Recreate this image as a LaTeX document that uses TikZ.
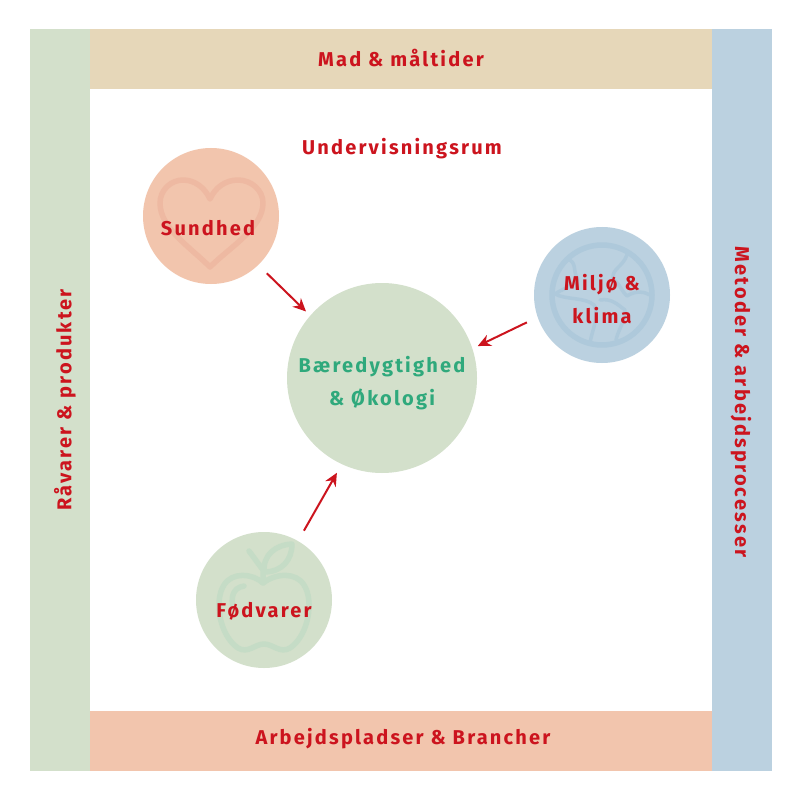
\documentclass[tikz,border=0pt]{standalone}
\usepackage{fontspec}
\setmainfont{Fira Sans}
\newfontfamily\bandfont[LetterSpace=11]{Fira Sans}
\usepackage{xcolor}
\usetikzlibrary{arrows.meta}
\definecolor{LabelRed}{HTML}{CC141E}
\definecolor{EcoGreen}{HTML}{2FA97C}
\definecolor{BandGreen}{HTML}{D3E0CB}
\definecolor{BandTan}{HTML}{E6D7B9}
\definecolor{BandBlue}{HTML}{BBD1E0}
\definecolor{BandPeach}{HTML}{F2C5AD}
\definecolor{HeartLine}{HTML}{EEB9A2}
\definecolor{GlobeLine}{HTML}{AEC9DB}
\definecolor{AppleLine}{HTML}{C5DCC6}

\begin{document}
\begin{tikzpicture}[
  x=1pt,y=-1pt,
  >={Stealth[length=13pt,width=12pt]},
  band/.style={inner sep=0pt,outer sep=0pt},
  bandtitle/.style={font=\bandfont\bfseries\fontsize{20}{22}\selectfont,text=LabelRed},
  topic/.style={circle,inner sep=0pt,outer sep=0pt,minimum size=136pt},
  topictitle/.style={font=\bandfont\bfseries\fontsize{20}{33}\selectfont,text=LabelRed,align=center},
  icon/.style={line width=5.5pt,line cap=round,line join=round},
  flow/.style={->,draw=LabelRed,line width=2pt,shorten <=12pt,shorten >=6pt}
]
\useasboundingbox (0,0) rectangle (801,802);
\fill[white] (0,0) rectangle (801,802);

% Frame bands round the room.
\node[band,fill=BandGreen,minimum width=60pt,minimum height=742pt] (raavarer) at (60,400) {};
\node[band,fill=BandBlue,minimum width=60pt,minimum height=742pt] (metoder) at (742,400) {};
\node[band,fill=BandTan,minimum width=622pt,minimum height=60pt] (mad) at (401,59) {};
\node[band,fill=BandPeach,minimum width=622pt,minimum height=60pt] (arbejde) at (401,741) {};
\node[bandtitle] (madtitle) at (401,58) {Mad \& måltider};
\node[bandtitle] (arbejdetitle) at (403,739) {Arbejdspladser \& Brancher};
\node[bandtitle,rotate=90] (raavarertitle) at (65,400) {Råvarer \& produkter};
\node[bandtitle,rotate=-90] (metodertitle) at (741,402) {Metoder \& arbejdsprocesser};
\node[bandtitle] (rum) at (402,149) {Undervisningsrum};

% Topic circles.
\node[topic,fill=BandPeach] (sundhed) at (211,216) {};
\node[topic,fill=BandBlue] (miljo) at (602,295) {};
\node[topic,fill=BandGreen] (fodevarer) at (264,600) {};
\node[topic,fill=BandGreen,minimum size=190pt] (baere) at (382,378) {};

% Heart icon.
\draw[icon,HeartLine] (210,267)
  .. controls (190,247) and (160,228) .. (160,203)
  .. controls (160,190) and (171,180) .. (183,180)
  .. controls (195,180) and (205,188) .. (210,199)
  .. controls (215,188) and (225,180) .. (238,180)
  .. controls (251,180) and (263,190) .. (263,203)
  .. controls (263,228) and (230,247) .. (210,267) -- cycle;

% Globe icon.
\draw[icon,GlobeLine] (602,295) circle (50pt);
\draw[icon,GlobeLine,line width=3.5pt] (567,259)
  .. controls (578,262) and (572,272) .. (578,279)
  .. controls (570,288) and (560,290) .. (555,294)
  .. controls (566,300) and (585,297) .. (594,305)
  .. controls (600,315) and (592,330) .. (590,343);
\draw[icon,GlobeLine,line width=3.5pt] (627,255)
  .. controls (622,268) and (612,268) .. (613,279)
  .. controls (620,284) and (622,292) .. (627,296)
  .. controls (636,290) and (645,292) .. (650,295);
\draw[icon,GlobeLine,line width=3.5pt] (600,300)
  .. controls (612,298) and (618,305) .. (625,310)
  .. controls (625,322) and (618,330) .. (616,340);

% Apple icon.
\draw[icon,AppleLine] (263,583)
  .. controls (252,573) and (232,572) .. (224,585)
  .. controls (214,600) and (219,635) .. (238,648)
  .. controls (248,654) and (255,644) .. (264,644)
  .. controls (273,644) and (280,654) .. (290,648)
  .. controls (309,635) and (314,600) .. (304,585)
  .. controls (296,572) and (276,573) .. (263,583) -- cycle;
\draw[icon,AppleLine] (249,551) -- (263,570) -- (263,583);
\draw[icon,AppleLine] (264,572)
  .. controls (263,555) and (275,545) .. (292,544)
  .. controls (292,560) and (282,572) .. (264,572) -- cycle;
\draw[icon,AppleLine] (233,608) .. controls (231,598) and (232,588) .. (244,586);

% Topic labels.
\node[topictitle] (sundhedtitle) at (208,228) {Sundhed};
\node[topictitle] (miljotitle) at (602,299) {Miljø \&\\klima};
\node[topictitle] (fodevarertitle) at (264,611) {Fødvarer};
\node[topictitle,text=EcoGreen] (baeretitle) at (382,383) {Bæredygtighed\\\& Økologi};

% Arrows into the middle.
\draw[flow] (sundhed.-46) -- (baere.139);
\draw[flow] (miljo.199) -- (baere.18);
\draw[flow,shorten >=10pt] (fodevarer.60) -- (baere.-115);
\end{tikzpicture}
\end{document}
